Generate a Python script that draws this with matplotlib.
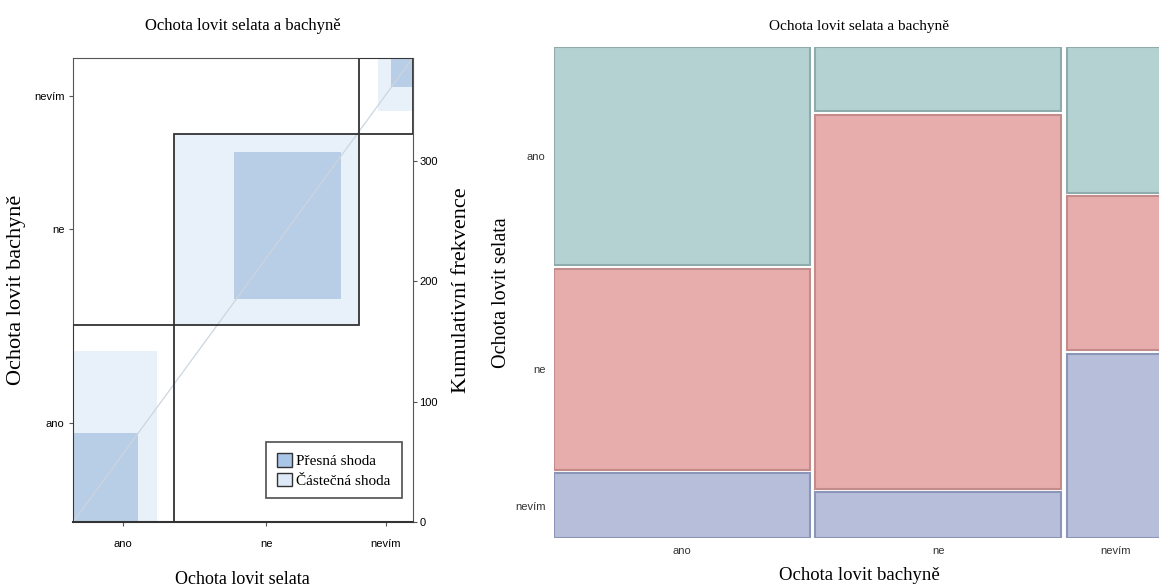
import matplotlib.pyplot as plt
from matplotlib.patches import Rectangle, Patch
import numpy as np

# data: counts, rows = Ochota lovit selata, cols = Ochota lovit bachyne
levels = ['ano', 'ne', 'nevím']
selata_ano = [74, 21, 19]
selata_ne = [68, 122, 20]
selata_nevim = [22, 15, 24]
counts = np.array([selata_ano, selata_ne, selata_nevim])

title = 'Ochota lovit selata a bachyně'
serif = 'Liberation Serif'
sans = 'Liberation Sans'

fig = plt.figure(figsize=(11.59, 5.88), dpi=100)

#----- left: agreement plot
ax = fig.add_axes([0.063, 0.112, 0.293, 0.789])
N = counts.sum()
rs = counts.sum(axis=1)   # widths (selata)
cs = counts.sum(axis=0)   # heights (bachyne)
cx = np.concatenate([[0], np.cumsum(rs)])
cy = np.concatenate([[0], np.cumsum(cs)])
dark = '#b8cde6'
light = '#e8f0f9'

for i in range(len(levels)):
    lo = max(i - 1, 0)
    # partial agreement
    x0 = cx[i] + counts[i, :lo].sum()
    y0 = cy[i] + counts[:lo, i].sum()
    w = counts[i, lo:i + 2].sum()
    h = counts[lo:i + 2, i].sum()
    ax.add_patch(Rectangle((x0, y0), w, h, facecolor=light, edgecolor='none', zorder=1))
    # exact agreement
    x0 = cx[i] + counts[i, :i].sum()
    y0 = cy[i] + counts[:i, i].sum()
    ax.add_patch(Rectangle((x0, y0), counts[i, i], counts[i, i], facecolor=dark,
                           edgecolor='none', zorder=2))
for i in range(len(levels)):
    ax.add_patch(Rectangle((cx[i], cy[i]), rs[i], cs[i], facecolor='none',
                           edgecolor='#333333', lw=1.3, zorder=4))

ax.plot([0, N], [0, N], color='#cdd5de', lw=0.9, zorder=3)
ax.set_xlim(0, N)
ax.set_ylim(0, N)
ax.set_xticks((cx[:-1] + cx[1:]) / 2)
ax.set_xticklabels(levels, fontfamily=sans, fontsize=8)
ax.set_yticks((cy[:-1] + cy[1:]) / 2)
ax.set_yticklabels(levels, fontfamily=sans, fontsize=8)
ax.tick_params(length=3, width=0.8, color='#555555', pad=3)
ax.tick_params(axis='x', pad=9)
for s in ax.spines.values():
    s.set_color('#555555')
ax.spines['bottom'].set_color('#333333')
ax.spines['bottom'].set_linewidth(1.5)
ax.set_title(title, fontfamily=serif, fontsize=12, pad=20)
ax.set_xlabel('Ochota lovit selata', fontfamily=serif, fontsize=13, labelpad=16)
ax.set_ylabel('Ochota lovit bachyně', fontfamily=serif, fontsize=16, labelpad=6)

ax2 = ax.twinx()
ax2.set_ylim(0, N)
ax2.set_yticks([0, 100, 200, 300])
ax2.set_yticklabels(['0', '100', '200', '300'], fontfamily=sans, fontsize=8)
ax2.tick_params(length=3, width=0.8, color='#555555', pad=2)
for s in ax2.spines.values():
    s.set_visible(False)
ax2.set_ylabel('Kumulativní frekvence', fontfamily=serif, fontsize=16, labelpad=10)

leg = ax.legend(handles=[Patch(facecolor='#a9c6e8', edgecolor='#333333', label='Přesná shoda'),
                         Patch(facecolor='#dde9f7', edgecolor='#333333', label='Částečná shoda')],
                loc='lower right', bbox_to_anchor=(0.99, 0.035), prop={'family': serif, 'size': 11},
                fancybox=False, edgecolor='#222222', handlelength=1.0, handleheight=1.0,
                handletextpad=0.3, borderpad=0.7, labelspacing=0.3)
leg.get_frame().set_linewidth(1.2)

#----- right: mosaic plot
ax3 = fig.add_axes([0.478, 0.085, 0.527, 0.835])
fills = ['#b4d2d2', '#e7acac', '#b6bed9']
edges = ['#8fabab', '#c48b8b', '#8b95b8']
xgap = 3.3
ygap = 0.007
col_tot = counts.sum(axis=0)
xpos = 0.0
xcenters = []
ycenters = []
for j in range(len(levels)):
    avail = 1 - ygap * (len(levels) - 1)
    ytop = 1.0
    for i in range(len(levels)):
        h = counts[i, j] / col_tot[j] * avail
        ax3.add_patch(Rectangle((xpos, ytop - h), col_tot[j], h, facecolor=fills[i],
                                edgecolor=edges[i], lw=1.5))
        if j == 0:
            ycenters.append(ytop - h / 2)
        ytop -= h + ygap
    xcenters.append(xpos + col_tot[j] / 2)
    xpos += col_tot[j] + xgap
ax3.set_xlim(0, xpos - xgap)
ax3.set_ylim(0, 1)
ax3.set_xticks(xcenters)
ax3.set_xticklabels(levels, fontfamily=sans, fontsize=8, color='#333333')
ax3.set_yticks(ycenters)
ax3.set_yticklabels(levels, fontfamily=sans, fontsize=8, color='#333333')
ax3.tick_params(length=0, pad=6)
for s in ax3.spines.values():
    s.set_visible(False)
ax3.set_title(title, fontfamily=serif, fontsize=11, pad=12, x=0.5)
ax3.set_xlabel('Ochota lovit bachyně', fontfamily=serif, fontsize=13.5, labelpad=8)
ax3.set_ylabel('Ochota lovit selata', fontfamily=serif, fontsize=14.5, labelpad=3)

fig.savefig('out.png', dpi=100)
